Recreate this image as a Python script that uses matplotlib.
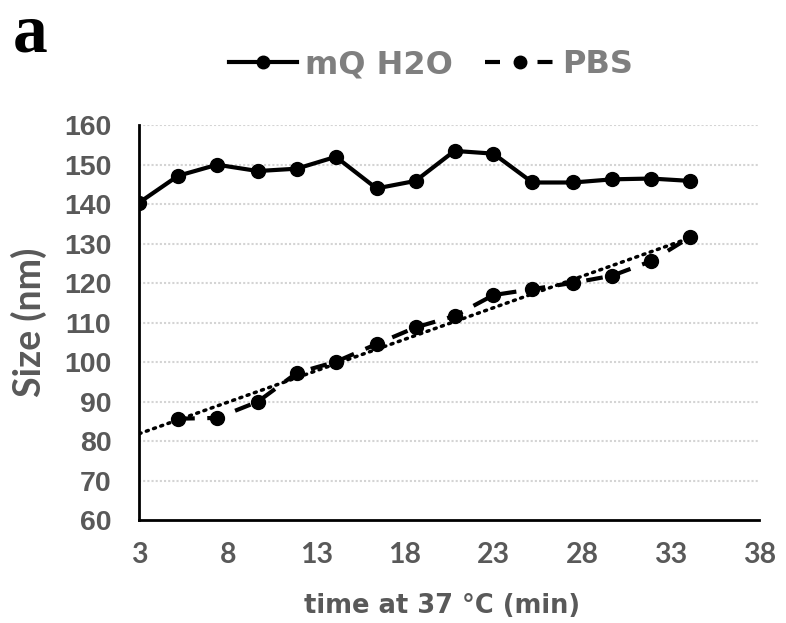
import numpy as np
import matplotlib
matplotlib.use('Agg')
import matplotlib.pyplot as plt
from matplotlib.lines import Line2D

time_mq = [3.0, 5.2, 7.4, 9.7, 11.9, 14.1, 16.4, 18.6, 20.8, 23.0, 25.2, 27.5, 29.7, 31.9, 34.1]
size_mq = [140.4, 147.2, 150.0, 148.4, 149.0, 152.0, 144.0, 145.9, 153.5, 152.8, 145.5, 145.5, 146.3, 146.5, 145.9]

time_pbs = [5.2, 7.4, 9.7, 11.9, 14.1, 16.4, 18.6, 20.8, 23.0, 25.2, 27.5, 29.7, 31.9, 34.1]
size_pbs = [85.7, 85.9, 90.0, 97.3, 100.1, 104.6, 108.8, 111.7, 117.0, 118.5, 120.1, 121.9, 125.6, 131.7]

x_ticks = [3, 8, 13, 18, 23, 28, 33, 38]
y_ticks = [60, 70, 80, 90, 100, 110, 120, 130, 140, 150, 160]

grey = '#595959'

fig = plt.figure(figsize=(7.86, 6.23), dpi=100)
ax = fig.add_axes([0.177, 0.165, 0.789, 0.634])

ax.plot(time_mq, size_mq, color='black', linewidth=3, marker='o', markersize=10, label='mQ H2O')
ax.plot(time_pbs, size_pbs, color='black', linewidth=3, linestyle=(0, (4, 3)), marker='o', markersize=10, label='PBS')

# linear trendline for PBS
k, b = np.polyfit(time_pbs, size_pbs, 1)
tx = np.array([x_ticks[0], time_pbs[-1]])
ax.plot(tx, k * tx + b, color='black', linewidth=2.5, linestyle=(0, (0.6, 1.6)), dash_capstyle='round')

ax.set_xlim(3, 38)
ax.set_ylim(60, 160)
ax.set_xticks(x_ticks)
ax.set_yticks(y_ticks)
for y in y_ticks[1:]:
    ax.axhline(y, color='#d4d4d4', linewidth=1.5, linestyle=(0, (1, 1)), zorder=0)

for s in ['top', 'right']:
    ax.spines[s].set_visible(False)
ax.spines['left'].set_linewidth(2)
ax.spines['bottom'].set_linewidth(2)
ax.tick_params(length=0)
ax.tick_params(axis='x', pad=16)
ax.tick_params(axis='y', pad=20)

for lab in ax.get_yticklabels():
    lab.set_fontfamily('Liberation Sans')
    lab.set_fontweight('bold')
    lab.set_fontsize(20.5)
    lab.set_color(grey)
for lab in ax.get_xticklabels():
    lab.set_fontfamily(['Liberation Sans Narrow', 'Lato'])
    lab.set_fontweight('bold')
    lab.set_fontsize(20.5)
    lab.set_color(grey)

ax.set_ylabel('Size (nm)', fontsize=27, fontweight='bold', color=grey, family='Lato')
ax.yaxis.set_label_coords(-0.148, 0.5)
fig.text(0.562, 0.016, 'time at 37 °C (min)', fontsize=18.5, fontweight='bold', color=grey,
         family='DejaVu Sans', ha='center', va='baseline')

handles = [Line2D([], [], color='black', linewidth=3, marker='o', markersize=9),
           Line2D([], [], color='black', linewidth=3, linestyle=(0, (3.6, 9.0)), marker='o', markersize=9)]
leg = fig.legend(handles, ['mQ H2O', 'PBS'], loc='center', bbox_to_anchor=(0.548, 0.896), ncol=2,
                 frameon=False, handlelength=2.15, columnspacing=1.0, handletextpad=0.25,
                 prop={'family': 'DejaVu Sans', 'weight': 'bold', 'size': 23})
for t in leg.get_texts():
    t.set_color('#7f7f7f')

fig.text(0.016, 0.918, 'a', fontsize=50, fontweight='bold', family='Liberation Serif',
         color='black', va='baseline')

fig.savefig('out.png', dpi=100)
